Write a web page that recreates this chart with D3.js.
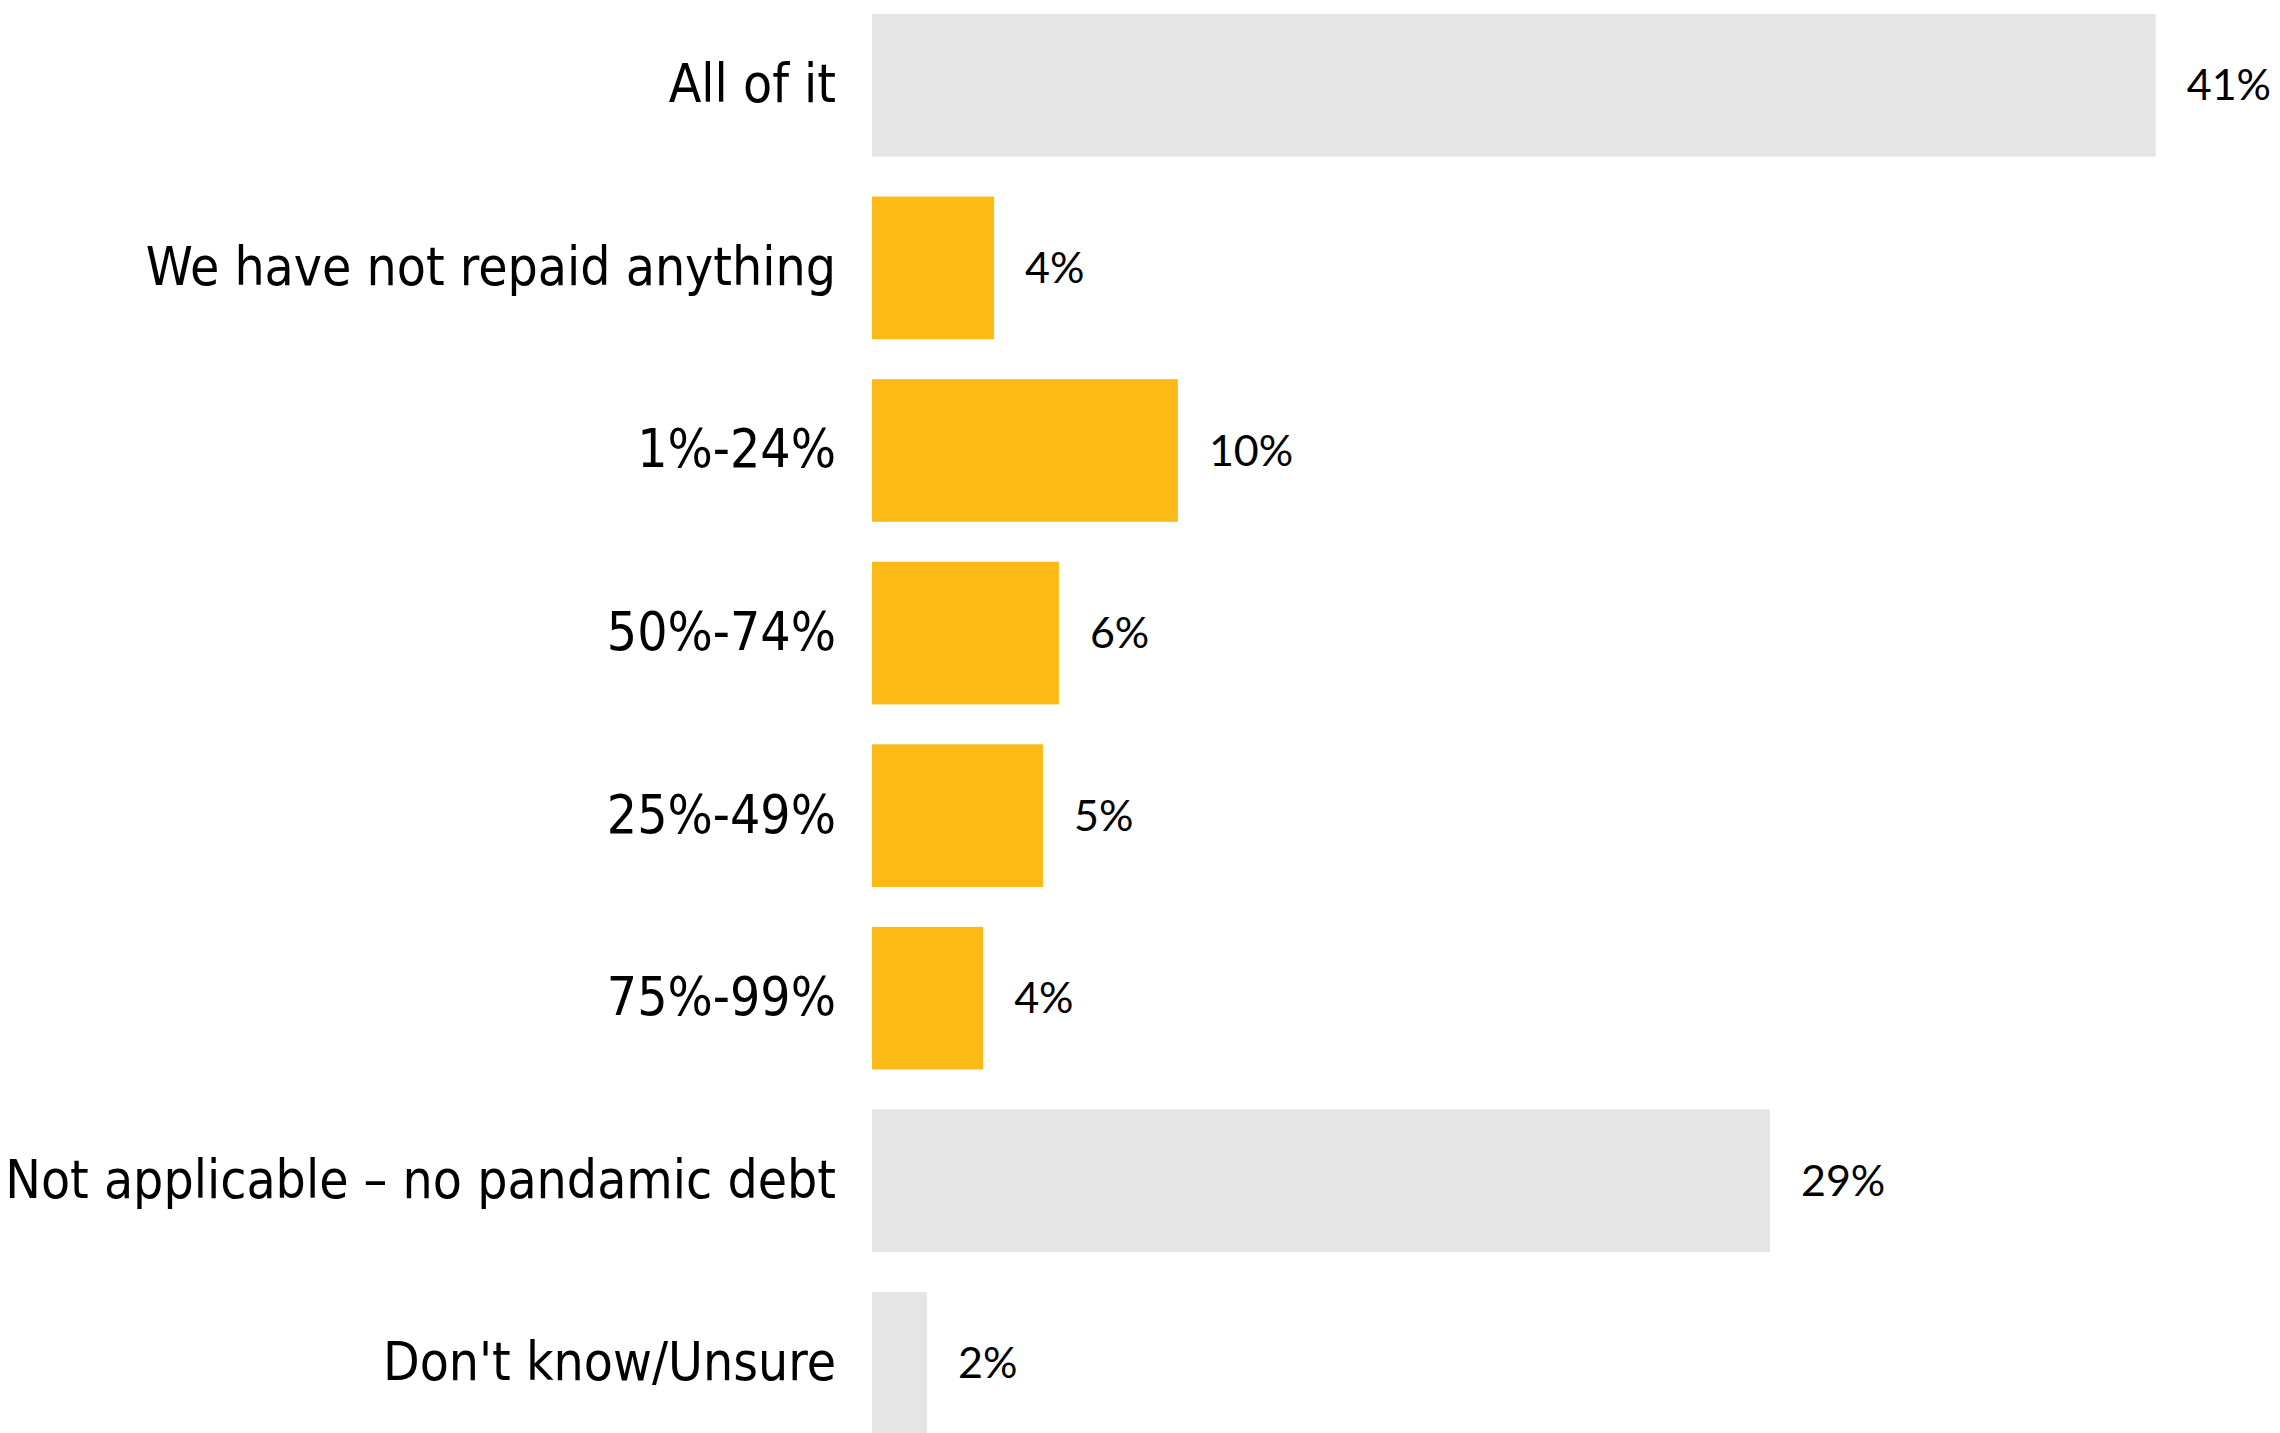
<!DOCTYPE html>
<html>
<head>
<meta charset="utf-8">
<script src="https://cdn.jsdelivr.net/npm/d3@7"></script>
<style>
  html, body { margin: 0; padding: 0; background: #ffffff; }
  svg { display: block; }
</style>
</head>
<body>
<svg id="chart" width="2280" height="1433"></svg>
<script>
// ---- data ----
const categories = [
  "All of it",
  "We have not repaid anything",
  "1%-24%",
  "50%-74%",
  "25%-49%",
  "75%-99%",
  "Not applicable \u2013 no pandamic debt",
  "Don't know/Unsure"
];
const values = [41.0, 3.9, 9.77, 5.97, 5.46, 3.55, 28.68, 1.76];
const valueLabels = ["41%", "4%", "10%", "6%", "5%", "4%", "29%", "2%"];
const highlighted = [false, true, true, true, true, true, false, false];

// ---- layout ----
const svg = d3.select("#chart");

const x = d3.scaleLinear().domain([0, 41]).range([872, 2155.7]);
const y = d3.scaleBand()
  .domain(categories)
  .range([14, 1434.7])
  .paddingInner(0.2186)
  .paddingOuter(0);

const colorGrey = "#e5e5e5";
const colorYellow = "#fcba16";

const rows = categories.map((c, i) => ({ c, v: values[i], label: valueLabels[i], hi: highlighted[i] }));

svg.append("g").selectAll("rect")
  .data(rows)
  .join("rect")
  .attr("x", x(0))
  .attr("y", d => y(d.c))
  .attr("width", d => x(d.v) - x(0))
  .attr("height", y.bandwidth())
  .attr("fill", d => d.hi ? colorYellow : colorGrey);

// category axis (labels only)
const yAxis = d3.axisLeft(y).tickSize(0).tickPadding(36);
const gy = svg.append("g")
  .attr("transform", `translate(${x(0)},0)`)
  .call(yAxis);
gy.select(".domain").remove();
gy.selectAll("text")
  .attr("font-family", "'DejaVu Sans Condensed', 'DejaVu Sans', sans-serif")
  .attr("font-size", 53)
  .attr("fill", "#000");

// value labels
svg.append("g").selectAll("text")
  .data(rows)
  .join("text")
  .attr("x", d => x(d.v) + 31)
  .attr("y", d => y(d.c) + y.bandwidth() / 2)
  .attr("dy", "0.35em")
  .attr("font-family", "Lato, sans-serif")
  .attr("font-size", 43)
  .attr("fill", "#000")
  .text(d => d.label);
</script>
</body>
</html>
